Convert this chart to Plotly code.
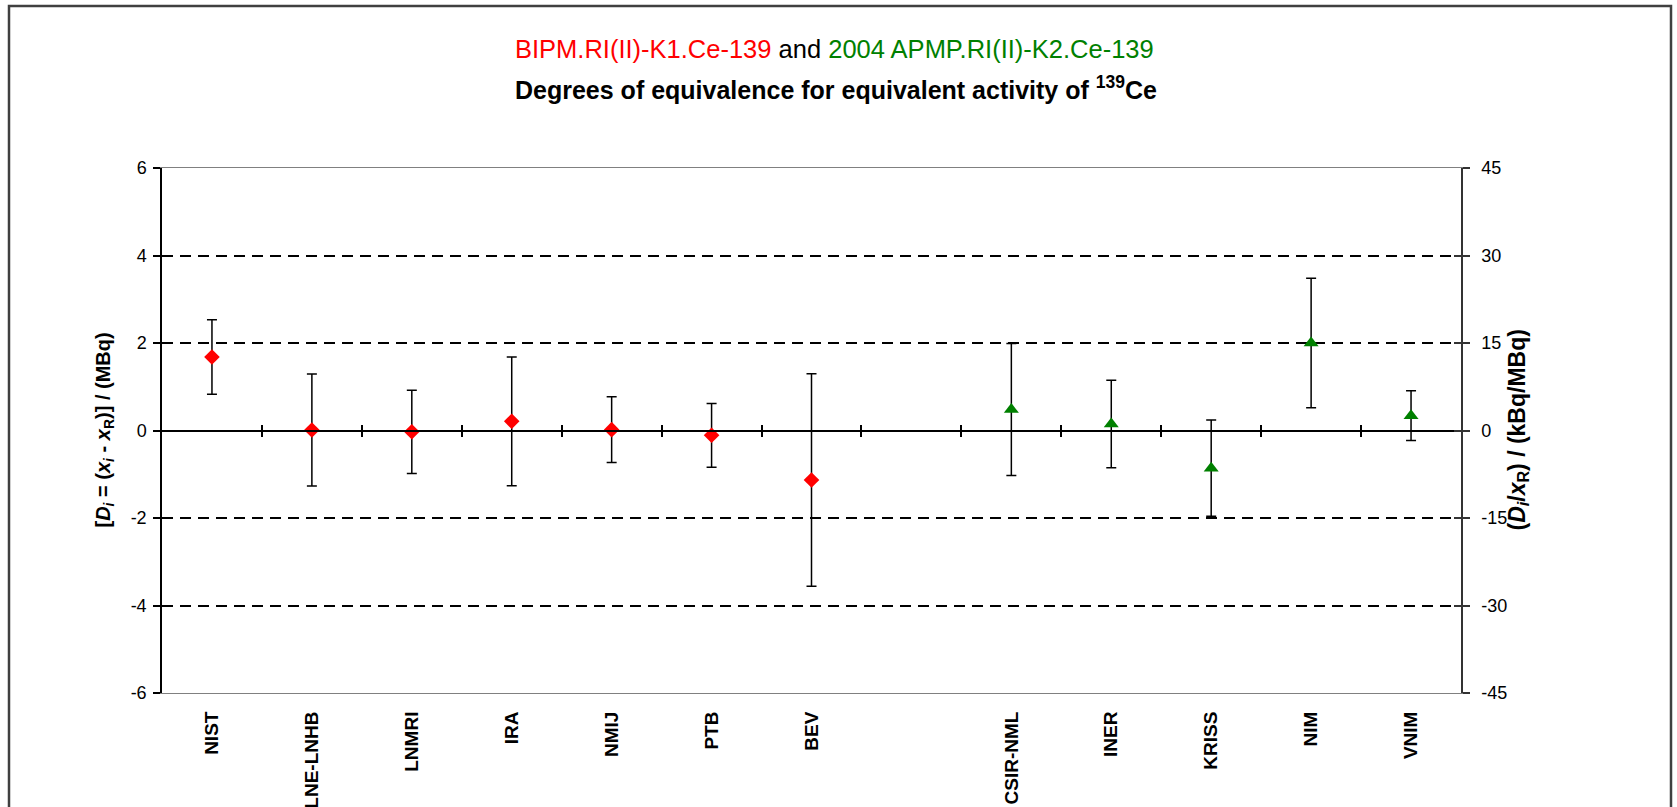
import plotly.graph_objects as go

# ---- data ----
categories = ["NIST", "LNE-LNHB", "LNMRI", "IRA", "NMIJ", "PTB", "BEV", "",
              "CSIR-NML", "INER", "KRISS", "NIM", "VNIM"]
k1_labs = ["NIST", "LNE-LNHB", "LNMRI", "IRA", "NMIJ", "PTB", "BEV"]
k1_vals = [1.68, 0.01, -0.03, 0.21, 0.02, -0.11, -1.13]
k1_errs = [0.85, 1.28, 0.95, 1.47, 0.75, 0.73, 2.43]
k2_labs = ["CSIR-NML", "INER", "KRISS", "NIM", "VNIM"]
k2_vals = [0.48, 0.15, -0.86, 2.00, 0.34]
k2_errs = [1.51, 1.00, 1.10, 1.48, 0.57]
left_ticks = [-6, -4, -2, 0, 2, 4, 6]
right_ticks = [-45, -30, -15, 0, 15, 30, 45]

W, H = 1677, 807
L, R, T, B = 162, 1461, 168, 693
pw, ph = R - L, B - T

FONT = "Liberation Sans, Arial, sans-serif"
idx = {c: i for i, c in enumerate(categories)}
ncat = len(categories)
xr = [-0.5, ncat - 0.5]
boundaries = [i + 0.5 for i in range(ncat - 1)]

fig = go.Figure()
err_style = dict(type="data", symmetric=True, color="black", thickness=1.5, width=5)
fig.add_trace(go.Scatter(
    x=[idx[c] for c in k1_labs], y=k1_vals, mode="markers",
    marker=dict(symbol="diamond", size=12, color="#ff0000"),
    error_y=dict(array=k1_errs, **err_style), showlegend=False))
fig.add_trace(go.Scatter(
    x=[idx[c] for c in k2_labs], y=k2_vals, mode="markers",
    marker=dict(symbol="triangle-up", size=13, color="#008000"),
    error_y=dict(array=k2_errs, **err_style), showlegend=False))
# dummy traces to activate overlay axes
for xa, ya in [("x2", "y"), ("x3", "y"), ("x", "y2"), ("x", "y3"), ("x", "y4")]:
    fig.add_trace(go.Scatter(x=[None], y=[None], xaxis=xa, yaxis=ya,
                             showlegend=False, hoverinfo="skip"))

tickfont = dict(family=FONT, size=18, color="black")
fig.update_layout(
    width=W, height=H,
    margin=dict(l=L, r=W - R, t=T, b=H - B, autoexpand=False),
    paper_bgcolor="white", plot_bgcolor="white",
    font=dict(family=FONT, color="black"),
    xaxis=dict(range=xr, tickvals=[i for i, c in enumerate(categories)],
               ticktext=["<b>%s</b>" % c if c else " " for c in categories],
               tickangle=-90, ticks="", showgrid=False, zeroline=False,
               showline=True, linecolor="#808080", linewidth=1, mirror=True,
               ticklabelstandoff=10, automargin=False,
               tickfont=dict(family=FONT, size=19, color="black")),
    xaxis2=dict(range=xr, overlaying="x", anchor="free", position=0.5,
                tickvals=boundaries, ticks="outside", ticklen=6, tickwidth=1.5,
                tickcolor="black", showticklabels=False, showgrid=False,
                zeroline=False, showline=True, linecolor="black", linewidth=1.5),
    xaxis3=dict(range=xr, overlaying="x", anchor="free", position=0.5,
                tickvals=boundaries, ticks="inside", ticklen=6, tickwidth=1.5,
                tickcolor="black", showticklabels=False, showgrid=False,
                zeroline=False, showline=False),
    yaxis=dict(range=[-6, 6], tickvals=left_ticks, ticktext=[str(v) for v in left_ticks],
               ticks="outside", ticklen=7, automargin=False,
               tickwidth=1.5, tickcolor="black", showgrid=False, zeroline=False,
               showline=True, linecolor="black", linewidth=1.5,
               ticklabelstandoff=3, tickfont=tickfont),
    yaxis2=dict(range=[-45, 45], tickvals=right_ticks, ticktext=[str(v) for v in right_ticks],
                overlaying="y", side="right", automargin=False,
                anchor="x", ticks="outside", ticklen=7, tickwidth=1.5,
                tickcolor="#333333", showgrid=False, zeroline=False,
                showline=True, linecolor="#333333", linewidth=1.5,
                ticklabelstandoff=8, tickfont=tickfont),
    yaxis3=dict(range=[-45, 45], tickvals=right_ticks, overlaying="y", side="right",
                anchor="x", ticks="inside", ticklen=7, tickwidth=1.5,
                tickcolor="#333333", showticklabels=False, showgrid=False,
                zeroline=False, showline=False),
    yaxis4=dict(range=[-6, 6], tickvals=[t for t in left_ticks if abs(t) not in (0, 6)],
                overlaying="y", showticklabels=False, ticks="", showgrid=True,
                gridcolor="black", gridwidth=1.5, griddash="11px,7px",
                zeroline=False, showline=False),
)

# reference-pixel -> paper coordinates
def px(x):
    return (x - L) / pw

def py(y):
    return (B - y) / ph

fig.add_annotation(
    text="<span style='color:#ff0000'>BIPM.RI(II)-K1.Ce-139</span> and "
         "<span style='color:#008000'>2004 APMP.RI(II)-K2.Ce-139</span>",
    xref="paper", yref="paper", x=px(834), y=py(49), showarrow=False,
    xanchor="center", yanchor="middle", font=dict(family=FONT, size=25.5, color="black"))
fig.add_annotation(
    text="<b>Degrees of equivalence for equivalent activity of <sup>139</sup>Ce</b>",
    xref="paper", yref="paper", x=px(836), y=py(88), showarrow=False,
    xanchor="center", yanchor="middle", font=dict(family=FONT, size=25, color="black"))
fig.add_annotation(
    text="<b>[<i>D<sub>i</sub></i> = (<i>x<sub>i</sub></i> - <i>x</i><sub>R</sub>)] / (MBq)</b>",
    xref="paper", yref="paper", x=px(104), y=0.5, textangle=-90, showarrow=False,
    xanchor="center", yanchor="middle", font=dict(family=FONT, size=20, color="black"))
fig.add_annotation(
    text="<b>(<i>D<sub>i</sub></i>/<i>x</i><sub>R</sub>) / (kBq/MBq)</b>",
    xref="paper", yref="paper", x=px(1518), y=0.5, textangle=-90, showarrow=False,
    xanchor="center", yanchor="middle", font=dict(family=FONT, size=23, color="black"))

# outer frame
fig.add_shape(type="rect", xref="paper", yref="paper",
              x0=px(9), x1=px(1671), y0=py(840), y1=py(6),
              line=dict(color="#404040", width=2.5), fillcolor="rgba(0,0,0,0)")

fig.write_html("out.html", config={"displayModeBar": False},
               post_script="document.body.style.margin='0';")
